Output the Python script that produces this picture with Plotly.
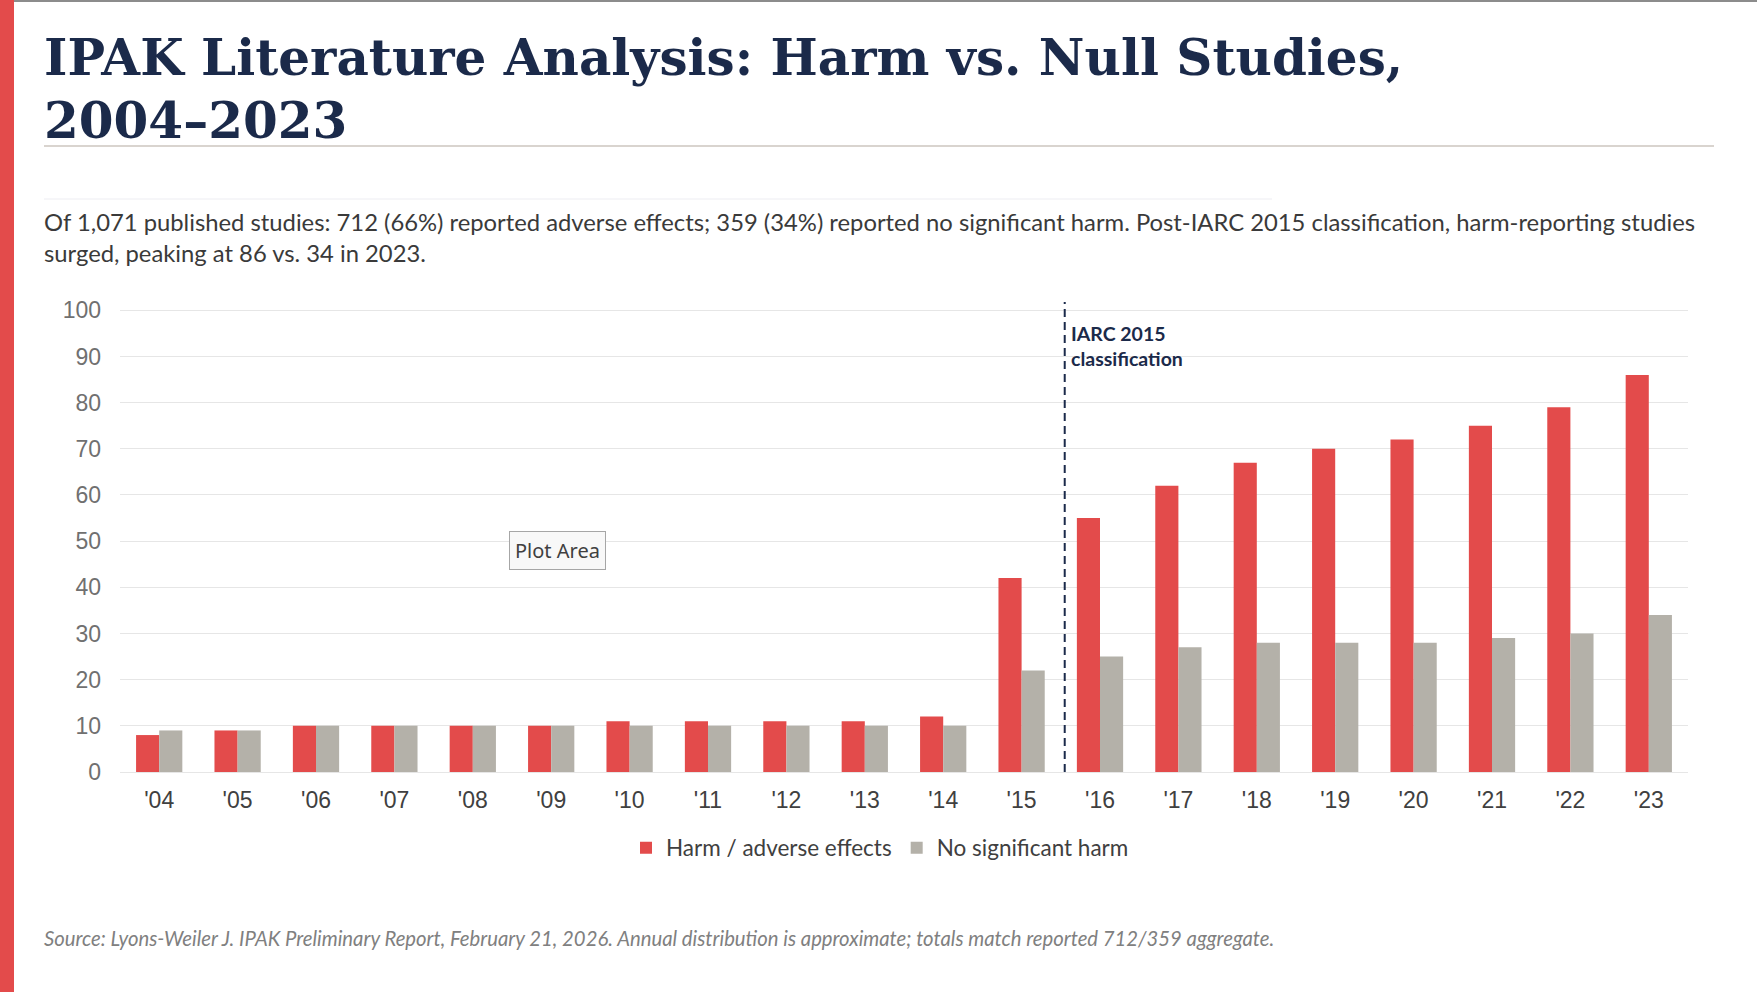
import plotly.graph_objects as go

# ---- data ----
years = ["'04", "'05", "'06", "'07", "'08", "'09", "'10", "'11", "'12", "'13",
         "'14", "'15", "'16", "'17", "'18", "'19", "'20", "'21", "'22", "'23"]
harm = [8, 9, 10, 10, 10, 10, 11, 11, 11, 11, 12, 42, 55, 62, 67, 70, 72, 75, 79, 86]
null = [9, 9, 10, 10, 10, 10, 10, 10, 10, 10, 10, 22, 25, 27, 28, 28, 28, 29, 30, 34]
series_names = ["Harm / adverse effects", "No significant harm"]
y_ticks = [0, 10, 20, 30, 40, 50, 60, 70, 80, 90, 100]

title_l1 = "IPAK Literature Analysis: Harm vs. Null Studies,"
title_l2 = "2004–2023"
sub_l1 = ("Of 1,071 published studies: 712 (66%) reported adverse effects; 359 (34%) reported no "
          "significant harm. Post-IARC 2015 classification, harm-reporting studies")
sub_l2 = "surged, peaking at 86 vs. 34 in 2023."
source = ("Source: Lyons-Weiler J. IPAK Preliminary Report, February 21, 2026. Annual distribution "
          "is approximate; totals match reported 712/359 aggregate.")
iarc_l1 = "IARC 2015"
iarc_l2 = "classification"

RED = "#e34b4b"
GRAY = "#b4b1a9"
NAVY = "#1b2a4a"

W, H = 1757, 992
L, R, T, B = 120, 1688, 302, 772
YMAX = 101.8
TX = 41.5  # left edge of text block


def px(x):
    return (x - L) / (R - L)


def py(y):
    return (B - y) / (B - T)


fig = go.Figure()
fig.add_trace(go.Bar(x=years, y=harm, name=series_names[0], marker_color=RED,
                     marker_line_width=0, hoverinfo="skip"))
fig.add_trace(go.Bar(x=years, y=null, name=series_names[1], marker_color=GRAY,
                     marker_line_width=0, hoverinfo="skip"))

shapes = [
    # left red accent bar
    dict(type="rect", xref="paper", yref="paper", x0=px(0), x1=px(14), y0=py(0), y1=py(H),
         fillcolor=RED, line_width=0, layer="above"),
    # top border
    dict(type="line", xref="paper", yref="paper", x0=px(14), x1=px(W), y0=py(1), y1=py(1),
         line=dict(color="#8c8c8c", width=2)),
    # rule under title
    dict(type="line", xref="paper", yref="paper", x0=px(44), x1=px(1714), y0=py(146), y1=py(146),
         line=dict(color="#d9d4cf", width=2)),
    # faint rule above subtitle
    dict(type="line", xref="paper", yref="paper", x0=px(44), x1=px(1272), y0=py(199), y1=py(199),
         line=dict(color="#ededf2", width=1)),
    # IARC dashed line
    dict(type="line", xref="x", yref="y", x0=11.55, x1=11.55, y0=0, y1=YMAX,
         line=dict(color=NAVY, width=2, dash="8px,5px")),
]

annotations = [
    dict(text=f"<b>{title_l1}</b>", x=px(TX), y=py(58), xref="paper", yref="paper",
         xanchor="left", yanchor="middle", showarrow=False,
         font=dict(family="DejaVu Serif", size=50, color=NAVY)),
    dict(text=f"<b>{title_l2}</b>", x=px(TX), y=py(120), xref="paper", yref="paper",
         xanchor="left", yanchor="middle", showarrow=False,
         font=dict(family="DejaVu Serif", size=50, color=NAVY)),
    dict(text=sub_l1, x=px(TX), y=py(222), xref="paper", yref="paper",
         xanchor="left", yanchor="middle", showarrow=False,
         font=dict(family="Lato", size=23.8, color="#3a3a3a")),
    dict(text=sub_l2, x=px(TX), y=py(253), xref="paper", yref="paper",
         xanchor="left", yanchor="middle", showarrow=False,
         font=dict(family="Lato", size=23.8, color="#3a3a3a")),
    dict(text=f"<b>{iarc_l1}</b>", x=px(1069), y=py(333), xref="paper", yref="paper",
         xanchor="left", yanchor="middle", showarrow=False,
         font=dict(family="Lato", size=19.5, color=NAVY)),
    dict(text=f"<b>{iarc_l2}</b>", x=px(1069), y=py(358), xref="paper", yref="paper",
         xanchor="left", yanchor="middle", showarrow=False,
         font=dict(family="Lato", size=19.5, color=NAVY)),
    dict(text=f"<i>{source}</i>", x=px(TX), y=py(938), xref="paper", yref="paper",
         xanchor="left", yanchor="middle", showarrow=False,
         font=dict(family="Lato", size=20.3, color="#808080")),
    dict(text="Plot Area", x=px(557), y=py(550), xref="paper", yref="paper",
         xanchor="center", yanchor="middle", showarrow=False,
         bgcolor="#f8f8f8", bordercolor="#a6a6a6", borderwidth=1, borderpad=5,
         font=dict(family="Noto Sans", size=20, color="#404040")),
]

fig.update_layout(
    width=W, height=H,
    margin=dict(l=L, r=W - R, t=T, b=H - B, pad=0),
    paper_bgcolor="white", plot_bgcolor="white",
    barmode="group", bargap=0.41, bargroupgap=0,
    shapes=shapes, annotations=annotations,
    showlegend=True,
    legend=dict(orientation="h", x=px(880), xanchor="center", y=py(848), yanchor="middle",
                font=dict(family="Lato", size=22.5, color="#404040"), itemsizing="constant",
                itemwidth=30, traceorder="normal"),
    xaxis=dict(type="category", showgrid=False, showline=False, ticks="",
               tickfont=dict(family="Liberation Sans", size=23, color="#404040"),
               ticklabelstandoff=12, fixedrange=True),
    yaxis=dict(range=[0, YMAX], tickvals=y_ticks, showgrid=True, gridcolor="#e6e6e6",
               gridwidth=1.3, zeroline=True, zerolinecolor="#e6e6e6", zerolinewidth=1.3,
               showline=False, ticks="",
               tickfont=dict(family="Liberation Sans", size=23, color="#707070"),
               ticklabelstandoff=18, fixedrange=True),
    hovermode=False,
)

fig.write_html("out.html", config={"displayModeBar": False},
               post_script="document.body.style.margin='0';document.body.style.overflow='hidden';")
